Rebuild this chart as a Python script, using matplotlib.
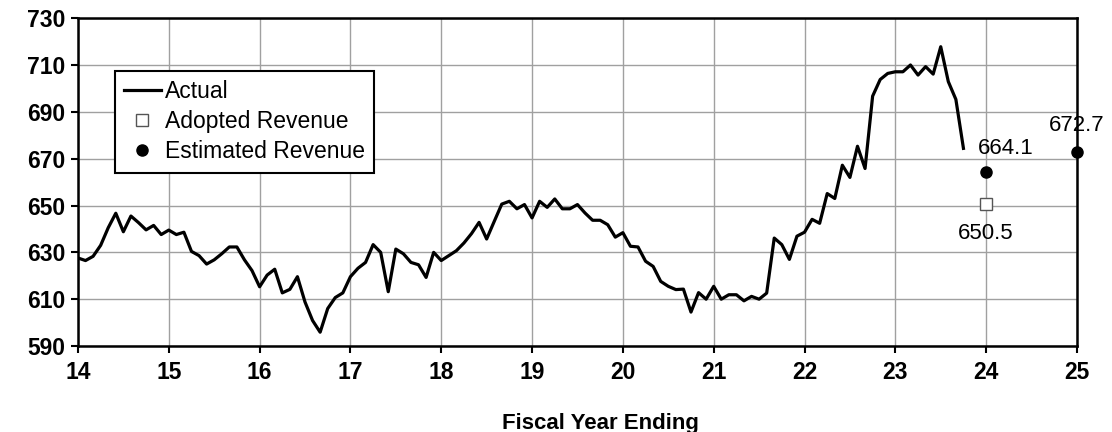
import numpy as np
import matplotlib
matplotlib.use("Agg")
from matplotlib import pyplot as plt

plt.rcParams['font.family'] = ['Liberation Sans', 'DejaVu Sans']

# monthly actual revenue, fiscal year 14.0 .. 23.75
actual = [
    627.6, 626.5, 628.3, 633.0, 640.5, 646.7, 638.8, 645.5, 642.7, 639.6, 641.5, 637.6,
    639.5, 637.6, 638.6, 630.4, 628.6, 625.0, 626.8, 629.4, 632.3, 632.3, 626.8, 622.2,
    615.3, 620.3, 622.8, 612.7, 614.2, 619.6, 608.8, 600.9, 595.9, 606.0, 610.7, 612.7,
    619.6, 623.2, 625.7, 633.3, 630.0, 613.2, 631.4, 629.4, 625.7, 624.7, 619.3, 630.0,
    626.5, 628.6, 630.7, 634.0, 638.0, 642.8, 635.7, 643.2, 650.6, 651.8, 648.6, 650.4,
    644.7, 651.8, 649.2, 652.8, 648.6, 648.6, 650.4, 646.8, 643.7, 643.7, 641.8, 636.5,
    638.4, 632.6, 632.3, 626.2, 624.0, 617.6, 615.5, 614.1, 614.3, 604.5, 612.8, 610.0,
    615.5, 610.0, 611.9, 611.9, 609.3, 611.2, 610.0, 612.6, 636.1, 633.3, 627.0, 636.9,
    638.6, 644.1, 642.4, 655.1, 653.0, 667.2, 662.0, 675.3, 665.8, 696.7, 703.8, 706.4,
    707.1, 707.1, 710.0, 705.7, 709.3, 706.1, 717.8, 702.9, 695.3, 674.4,
]
years = 14 + np.arange(len(actual)) / 12.0

adopted_x = [24]
adopted = [650.5]
estimated_x = [24, 25]
estimated = [664.1, 672.7]

fig = plt.figure(figsize=(11.12, 4.32), dpi=100)
ax = fig.add_axes([0.0701, 0.199, 0.8984, 0.759])

ax.plot(years, actual, color='black', lw=2.3, label='Actual', zorder=3)
ax.plot(adopted_x, adopted, ls='none', marker='s', ms=8, mfc='white',
        mec='#555555', mew=1.0, label='Adopted Revenue', zorder=4, clip_on=False)
ax.plot(estimated_x, estimated, ls='none', marker='o', ms=8, color='black',
        label='Estimated Revenue', zorder=4, clip_on=False)

# data labels
ax.annotate('664.1', (24, 664.1), xytext=(14, 17), textcoords='offset points',
            ha='center', va='center', fontsize=16)
ax.annotate('650.5', (24, 650.5), xytext=(0, -21), textcoords='offset points',
            ha='center', va='center', fontsize=16)
ax.annotate('672.7', (25, 672.7), xytext=(0, 19), textcoords='offset points',
            ha='center', va='center', fontsize=16)

ax.set_xlim(14, 25)
ax.set_ylim(590, 730)
ax.set_xticks(range(14, 26))
ax.set_yticks(range(590, 731, 20))
ax.grid(True, color='#a0a0a0', lw=1.0)
ax.set_axisbelow(True)
for s in ax.spines.values():
    s.set_linewidth(1.8)
    s.set_color('black')
ax.tick_params(axis='both', which='major', labelsize=16.5, width=1.5, length=5,
               direction='out', color='black')
for lab in ax.get_xticklabels() + ax.get_yticklabels():
    lab.set_fontweight('bold')
ax.tick_params(axis='x', pad=6)
ax.tick_params(axis='y', pad=4)

ax.set_xlabel('Fiscal Year Ending', fontsize=16, fontweight='bold')
ax.xaxis.set_label_coords(0.523, -0.205)

leg = ax.legend(loc='upper left', bbox_to_anchor=(0.037, 0.84), fontsize=16.5,
                frameon=True, fancybox=False, framealpha=1, edgecolor='black',
                handlelength=1.6, handletextpad=0.2, borderpad=0.4,
                labelspacing=0.32, borderaxespad=0)
leg.get_frame().set_linewidth(1.5)

fig.savefig('out.png', dpi=100)
